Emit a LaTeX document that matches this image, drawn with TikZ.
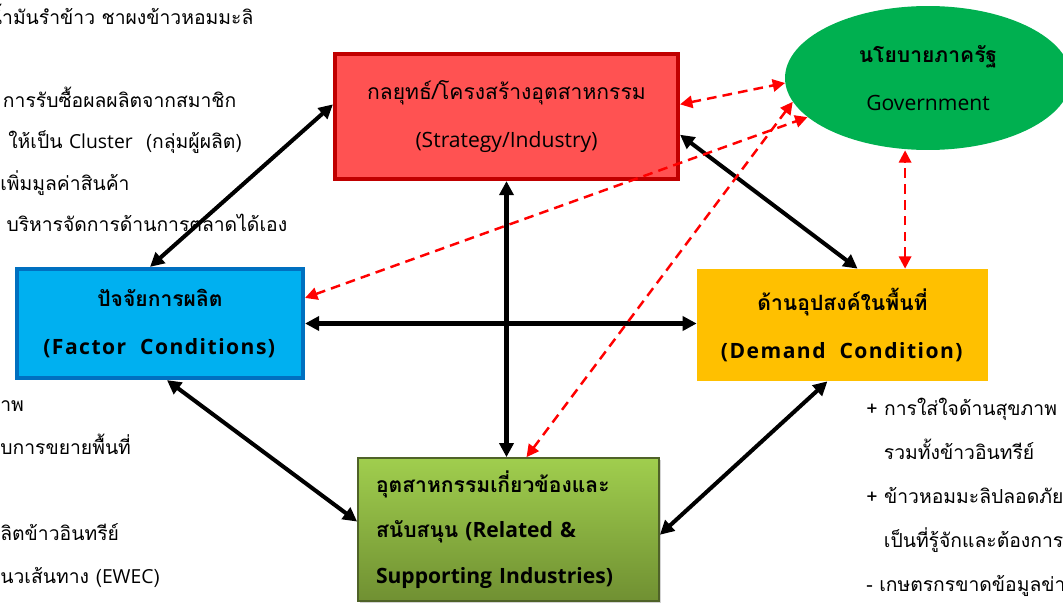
\documentclass[tikz,border=0pt]{standalone}
\usepackage{fontspec}
\setmainfont{Loma}[Script=Thai]
\newfontfamily\latinfont{Open Sans}
\usepackage{tikz}
\usetikzlibrary{arrows.meta,shapes.geometric,shadows}
\definecolor{strategyRed}{RGB}{255,82,82}
\definecolor{strategyBorder}{RGB}{192,0,0}
\definecolor{factorBlue}{RGB}{0,176,240}
\definecolor{factorBorder}{RGB}{0,112,192}
\definecolor{demandYellow}{RGB}{255,192,0}
\definecolor{govGreen}{RGB}{0,176,80}
\definecolor{relatedLight}{RGB}{160,206,78}
\definecolor{relatedDark}{RGB}{112,144,50}
\definecolor{relatedBorder}{RGB}{79,98,40}
\newcommand{\widetext}[1]{{\latinfont\addfontfeature{LetterSpace=7}#1}}

\begin{document}
\begin{tikzpicture}[x=0.02cm,y=-0.02cm,
                box/.style={minimum width=5.8cm,minimum height=2.2cm,
                            font=\fontsize{12}{27}\selectfont,align=center,inner sep=0pt},
                link/.style={line width=2.3pt,
                             {Triangle[length=8pt,width=8pt]}-{Triangle[length=8pt,width=8pt]}},
                govlink/.style={red,line width=1.4pt,dash pattern=on 5.5pt off 3.5pt,
                                {Triangle[length=7pt,width=7pt]}-{Triangle[length=7pt,width=7pt]}},
                note/.style={anchor=west,align=left,inner sep=0pt,
                             font=\fontsize{11}{23.5}\selectfont}
            ]
                \useasboundingbox (0,0) rectangle (1063,605);

                \node[note] (notesTL) at (0,118) {
                    \hspace*{-6.5pt}น้ำมันรำข้าว ชาผงข้าวหอมมะลิ\\
                    \mbox{}\\
                    \hspace*{1.5pt}การรับซื้อผลผลิตจากสมาชิก\\
                    \hspace*{4.5pt}ให้เป็น {\latinfont Cluster}~~(กลุ่มผู้ผลิต)\\
                    เพิ่มมูลค่าสินค้า\\
                    \hspace*{3.5pt}บริหารจัดการด้านการตลาดได้เอง
                };
                \node[note,font=\fontsize{11}{24.5}\selectfont] (notesBL) at (0,494) {
                    าพ\\
                    บการขยายพื้นที่\\
                    \mbox{}\\
                    ลิตข้าวอินทรีย์\\
                    นวเส้นทาง ({\latinfont EWEC})
                };
                \node[note,font=\fontsize{11}{25}\selectfont] (notesBR) at (866,497) {
                    + การใส่ใจด้านสุขภาพ\\
                    \hspace*{10pt}รวมทั้งข้าวอินทรีย์\\
                    + ข้าวหอมมะลิปลอดภัย\\
                    \hspace*{10pt}เป็นที่รู้จักและต้องการ\\
                    - เกษตรกรขาดข้อมูลข่าวสาร
                };

                \node[box,fill=strategyRed,draw=strategyBorder,line width=2.4pt,
                      minimum width=6.86cm,minimum height=2.5cm] (strategy) at (506.5,116.5) {
                    กลยุทธ์/โครงสร้างอุตสาหกรรม\\
                    {\latinfont (Strategy/Industry)}
                };
                \node[ellipse,fill=govGreen,minimum width=5.72cm,minimum height=2.88cm,
                      inner sep=0pt,align=center,font=\fontsize{12}{27}\selectfont] (gov) at (928,78) {
                    \textbf{นโยบายภาครัฐ}\\
                    {\latinfont Government}
                };
                \node[box,fill=factorBlue,draw=factorBorder,line width=2.4pt,
                      minimum width=5.72cm,minimum height=2.18cm] (factor) at (160,323.5) {
                    \textbf{ปัจจัยการผลิต}\\
                    \textbf{\widetext{(Factor~~Conditions)}}
                };
                \node[box,fill=demandYellow,minimum width=5.82cm,minimum height=2.24cm] (demand) at (842.5,325) {
                    \textbf{ด้านอุปสงค์ในพื้นที่}\\
                    \textbf{\widetext{(Demand~~Condition)}}
                };
                \node[box,draw=relatedBorder,line width=1pt,top color=relatedLight,bottom color=relatedDark,
                      drop shadow={shadow xshift=1pt,shadow yshift=-1pt,opacity=0.35},
                      minimum width=6.02cm,minimum height=2.86cm,text width=5.3cm,align=left,
                      font=\fontsize{12}{26}\selectfont] (related) at (508.5,529.5) {
                    \textbf{อุตสาหกรรมเกี่ยวข้องและ}\\
                    \textbf{สนับสนุน {\latinfont (Related \&}}\\
                    \textbf{\latinfont Supporting Industries)}
                };

                \draw[link] (strategy.176) -- (factor.100);
                \draw[link] (strategy.-6) -- (demand.75);
                \draw[link] (strategy.south) -- (strategy.south |- related.north);
                \draw[link] (factor.east) -- (factor.east -| demand.west);
                \draw[link] (factor.-83) -- (related.177);
                \draw[link] (demand.-105) -- (related.-2);

                \draw[govlink] (strategy.4) -- (gov.182);
                \draw[govlink] (demand.42) -- (demand.42 |- gov.south);
                \draw[govlink] (factor.10) -- (gov.198);
                \draw[govlink] (related.76) -- (gov.190);
            \end{tikzpicture}
\end{document}
